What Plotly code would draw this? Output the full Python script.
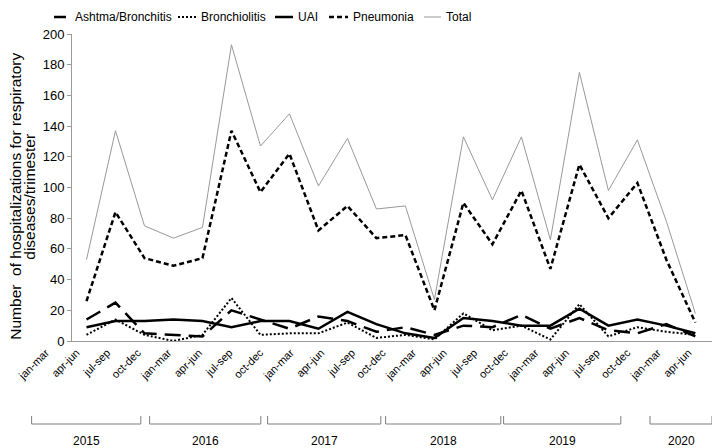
import plotly.graph_objects as go

quarters = ["jan-mar", "apr-jun", "jul-sep", "oct-dec"]
years = ["2015", "2016", "2017", "2018", "2019", "2020"]
tick_labels = quarters * 5 + ["jan-mar", "apr-jun"]
series_names = ["Ashtma/Bronchitis", "Bronchiolitis", "UAI", "Pneumonia", "Total"]

asthma = [14, 25, 5, 4, 3, 20, 14, 8, 16, 13, 6, 9, 4, 10, 9, 17, 8, 15, 7, 5, 11, 3]
bronchiolitis = [4, 14, 4, 0, 4, 28, 4, 5, 5, 12, 2, 4, 1, 18, 7, 10, 1, 24, 3, 9, 6, 4]
uai = [9, 13, 13, 14, 13, 9, 13, 13, 8, 19, 11, 5, 2, 15, 13, 10, 10, 21, 10, 14, 10, 5]
pneumonia = [26, 84, 54, 49, 54, 137, 97, 122, 72, 88, 67, 69, 20, 90, 63, 98, 47, 115, 80, 103, 53, 12]
total = [53, 137, 75, 67, 74, 193, 127, 148, 101, 132, 86, 88, 27, 133, 92, 133, 66, 175, 98, 131, 78, 18]

FONT = "Arial, Liberation Sans, sans-serif"
AXIS_GREY = "#9a9a9a"

# layout geometry
W_PX, H_PX = 720, 448
M_L, M_R, M_T, M_B = 64, 8, 26, 115
PLOT_W = W_PX - M_L - M_R
PLOT_H = H_PX - M_T - M_B
X_RANGE = [-0.5, 21.85]


def px_to_paper_x(px):
    return (px - M_L) / PLOT_W


def px_to_paper_y(py):
    return (H_PX - M_B - py) / PLOT_H


styles = [
    dict(color="black", width=2.5, dash="16px,8px"),
    dict(color="black", width=2, dash="2px,2px"),
    dict(color="black", width=2.5, dash="solid"),
    dict(color="black", width=2.5, dash="5px,3px"),
    dict(color="#999999", width=1, dash="solid"),
]
values = [asthma, bronchiolitis, uai, pneumonia, total]

x = list(range(len(tick_labels)))
fig = go.Figure()
for name, vals, st in zip(series_names, values, styles):
    fig.add_trace(go.Scatter(x=x, y=vals, mode="lines", name=name, line=st, showlegend=False))

shapes = []
annotations = []

# legend (drawn as a compact row above the plot, like the original)
legend_y = px_to_paper_y(9)
legend_items = [  # (sample start px, sample end px, text start px)
    (46, 58, 65), (170, 188, 191), (267, 285, 288), (321, 340, 343), (416, 433, 436)
]
for name, st, (s0, s1, t0) in zip(series_names, styles, legend_items):
    sample = dict(st)
    if name == "Ashtma/Bronchitis":
        sample["dash"] = "solid"
    shapes.append(dict(type="line", xref="paper", yref="paper",
                       x0=px_to_paper_x(s0), x1=px_to_paper_x(s1), y0=legend_y, y1=legend_y,
                       line=sample))
    annotations.append(dict(text=name, xref="paper", yref="paper", x=px_to_paper_x(t0), y=legend_y,
                            xanchor="left", yanchor="middle", showarrow=False,
                            font=dict(family=FONT, size=12, color="black")))

# year brackets under the quarter labels
yb, yt, ylab = px_to_paper_y(416), px_to_paper_y(408), px_to_paper_y(433)
for k, yr in enumerate(years):
    if k < 5:
        x0p, x1p = 23.6 + 118 * k, 132.8 + 120 * k
    else:
        x0p, x1p = 642, 704
    x0, x1 = px_to_paper_x(x0p), px_to_paper_x(x1p)
    for seg in [(x0, yt, x0, yb), (x0, yb, x1, yb), (x1, yb, x1, yt)]:
        shapes.append(dict(type="line", xref="paper", yref="paper",
                           x0=seg[0], y0=seg[1], x1=seg[2], y1=seg[3],
                           line=dict(color="#7f7f7f", width=1)))
    annotations.append(dict(text=yr, xref="paper", yref="paper", x=(x0 + x1) / 2, y=ylab,
                            showarrow=False, xanchor="center", yanchor="middle",
                            font=dict(family=FONT, size=12, color="black")))

# y-axis title (two lines)
for txt, px in [("Number  of hospitalizations for respiratory", 8), ("diseases/trimester", 22)]:
    annotations.append(dict(text=txt, xref="paper", yref="paper", x=px_to_paper_x(px), y=0.47,
                            textangle=-90, showarrow=False, xanchor="center", yanchor="middle",
                            font=dict(family=FONT, size=15.5, color="black")))

# quarter labels: slightly wider spacing than the data points, shifted left
tick_pos = [-0.4 + 1.0552 * i for i in x]

fig.update_layout(
    width=W_PX, height=H_PX,
    margin=dict(l=M_L, r=M_R, t=M_T, b=M_B, autoexpand=False),
    paper_bgcolor="white", plot_bgcolor="white",
    font=dict(family=FONT, size=12, color="black"),
    showlegend=False,
    shapes=shapes,
    annotations=annotations,
    xaxis=dict(tickmode="array", tickvals=tick_pos, ticktext=tick_labels, tickangle=-45,
               range=X_RANGE, showline=True, linecolor=AXIS_GREY, linewidth=1,
               showgrid=False, zeroline=False, ticks="", automargin=False,
               ticklabelshift=-29,
               tickfont=dict(family=FONT, size=11, color="black")),
    yaxis=dict(range=[0, 200], dtick=20, showline=True, linecolor=AXIS_GREY, linewidth=1,
               ticks="outside", ticklen=4, tickcolor=AXIS_GREY, showgrid=False, zeroline=False,
               automargin=False,
               tickfont=dict(family=FONT, size=13, color="black")),
)

fig.write_html("out.html")
